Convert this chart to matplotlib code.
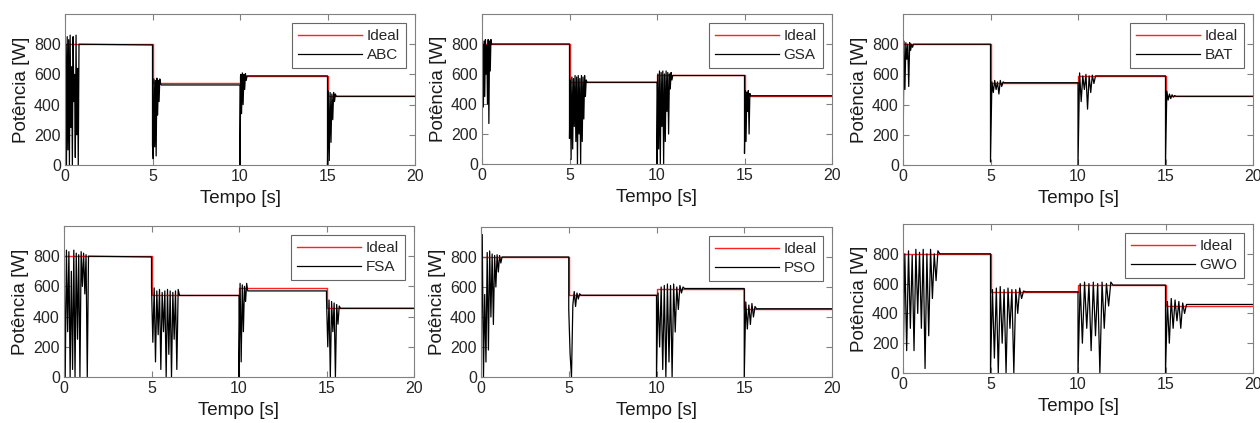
import numpy as np
import matplotlib
matplotlib.use('Agg')
import matplotlib.pyplot as plt

plt.rcParams['font.family'] = ['Liberation Sans', 'DejaVu Sans']

step_times = [0, 5, 10, 15, 20]

# per algorithm: ideal levels, transient end times, steady levels, transient samples
abc_ideal = [800, 540, 590, 455]
abc_ends = [0.8, 5.5, 10.4, 15.5]
abc_steady = [795, 530, 590, 455]
abc_wave = [[0, 800, 0, 850, 100, 830, 0, 860, 250, 650, 0, 850, 420, 600, 50, 860, 200, 640, 0, 800],
            [130, 40, 570, 120, 560, 60, 575, 330, 560, 420, 570, 540, 530],
            [0, 600, 340, 610, 400, 600, 500, 605, 560, 590],
            [0, 490, 30, 480, 150, 470, 300, 480, 420, 470, 455]]

gsa_ideal = [800, 545, 590, 455]
gsa_ends = [0.55, 6.0, 10.9, 15.35]
gsa_steady = [800, 545, 590, 455]
gsa_wave = [[50, 800, 380, 820, 450, 830, 600, 790, 400, 830, 270, 820, 620, 830, 800],
            [170, 560, 30, 580, 100, 570, 250, 590, 150, 580, 0, 590, 200, 570, 0, 590, 150, 580, 300, 590, 450, 560, 545],
            [0, 600, 100, 620, 0, 610, 250, 620, 0, 600, 150, 620, 350, 610, 200, 600, 500, 610, 560, 590],
            [70, 490, 150, 480, 350, 490, 200, 470, 455]]

bat_ideal = [800, 545, 590, 455]
bat_ends = [0.6, 5.8, 11.0, 15.6]
bat_steady = [800, 545, 590, 455]
bat_wave = [[0, 820, 500, 810, 700, 800, 520, 810, 760, 800, 780, 800],
            [20, 550, 480, 560, 500, 550, 470, 560, 520, 550, 545],
            [0, 610, 420, 590, 500, 600, 370, 590, 480, 595, 540, 590],
            [0, 490, 430, 470, 440, 465, 450, 460, 455]]

fsa_ideal = [800, 545, 590, 455]
fsa_ends = [1.4, 6.6, 10.5, 15.8]
fsa_steady = [795, 540, 570, 455]
fsa_wave = [[850, 0, 840, 300, 830, 0, 700, 50, 840, 0, 820, 250, 810, 0, 830, 600, 820, 550, 810, 0, 800],
            [600, 230, 590, 100, 570, 280, 580, 50, 560, 300, 570, 0, 580, 150, 570, 0, 560, 250, 570, 50, 580, 540],
            [0, 620, 100, 610, 300, 600, 500, 620, 570],
            [520, 200, 510, 0, 500, 300, 490, 0, 480, 350, 470, 455]]

pso_ideal = [800, 545, 590, 455]
pso_ends = [1.2, 5.7, 11.6, 15.7]
pso_steady = [800, 545, 590, 455]
pso_wave = [[0, 950, 0, 550, 100, 830, 180, 840, 400, 820, 350, 810, 600, 815, 700, 810, 760, 800],
            [450, 150, 0, 480, 570, 470, 560, 520, 555, 545],
            [0, 560, 200, 600, 50, 610, 0, 620, 100, 610, 0, 620, 300, 600, 450, 610, 560, 600, 590],
            [0, 500, 320, 480, 350, 490, 400, 470, 455]]

gwo_ideal = [800, 545, 590, 450]
gwo_ends = [2.1, 7.0, 12.0, 16.2]
gwo_steady = [800, 545, 590, 460]
gwo_wave = [[0, 800, 150, 820, 300, 790, 150, 830, 400, 810, 300, 830, 30, 800, 250, 830, 500, 800, 620, 820, 800],
            [0, 560, 100, 570, 0, 580, 200, 560, 0, 570, 300, 560, 0, 560, 400, 570, 500, 550, 545],
            [0, 600, 200, 610, 300, 600, 150, 610, 250, 600, 0, 610, 300, 600, 450, 610, 590],
            [0, 480, 200, 500, 300, 490, 350, 480, 300, 470, 400, 460]]

names = ['ABC', 'GSA', 'BAT', 'FSA', 'PSO', 'GWO']
ideals = [abc_ideal, gsa_ideal, bat_ideal, fsa_ideal, pso_ideal, gwo_ideal]
ends = [abc_ends, gsa_ends, bat_ends, fsa_ends, pso_ends, gwo_ends]
steadies = [abc_steady, gsa_steady, bat_steady, fsa_steady, pso_steady, gwo_steady]
waves = [abc_wave, gsa_wave, bat_wave, fsa_wave, pso_wave, gwo_wave]

# axes boxes in pixels: left, top, right, bottom
boxes = [(65, 14, 415, 165), (482, 14, 832, 164), (903, 14, 1253, 165),
         (64, 226, 414, 377), (481, 227, 832, 377), (903, 224, 1253, 373)]

W, H = 1260, 423
fig = plt.figure(figsize=(W / 100, H / 100), dpi=100)

for i in range(6):
    l, t, r, b = boxes[i]
    ax = fig.add_axes([l / W, 1 - b / H, (r - l) / W, (b - t) / H])

    ideal_y = ideals[i] + [ideals[i][-1]]
    ax.plot(step_times, ideal_y, drawstyle='steps-post', color='#ff2020', lw=1.0, label='Ideal')

    tt, yy = [], []
    for k in range(4):
        vals = waves[i][k]
        tt += list(np.linspace(step_times[k], ends[i][k], len(vals)))
        yy += vals
        tt += [step_times[k + 1]]
        yy += [steadies[i][k]]
    ax.plot(tt, yy, color='black', lw=0.9, label=names[i])

    ax.set_xlim(0, 20)
    ax.set_ylim(0, 1000)
    ax.set_xticks([0, 5, 10, 15, 20])
    ax.set_yticks([0, 200, 400, 600, 800])
    ax.tick_params(direction='in', top=True, right=True, length=4, width=0.8,
                   labelsize=11.5, colors='#808080', labelcolor='#262626', pad=3)
    for s in ax.spines.values():
        s.set_color('#808080')
        s.set_linewidth(0.8)
    ax.set_xlabel('Tempo [s]', fontsize=13.5, color='#1a1a1a', labelpad=4)
    ax.set_ylabel('Potência [W]', fontsize=13.5, color='#1a1a1a', labelpad=3)
    leg = ax.legend(loc='upper right', fontsize=11, handlelength=4.2, frameon=True,
                    fancybox=False, borderaxespad=0.6, labelspacing=0.3,
                    handletextpad=0.3, borderpad=0.4)
    leg.get_frame().set_edgecolor('#404040')
    leg.get_frame().set_linewidth(0.8)
    for txt in leg.get_texts():
        txt.set_color('#262626')

fig.savefig('out.png', dpi=100)
